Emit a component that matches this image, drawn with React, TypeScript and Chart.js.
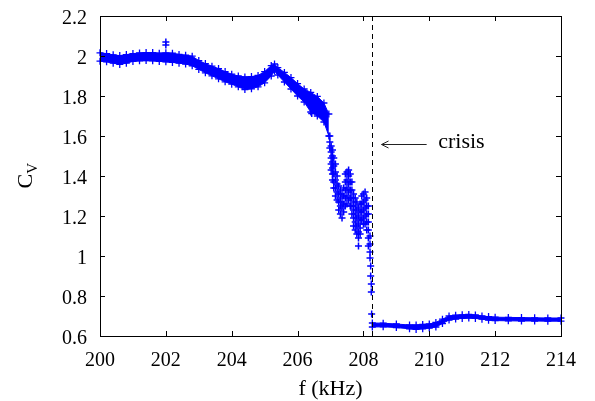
import React, { useEffect, useRef } from 'react';
import { Chart, registerables } from 'chart.js';

Chart.register(...registerables);

// Frequency samples (kHz) before the crisis and measured C_V band (upper / lower edge)
const freqsPre = [
  200.0, 200.2, 200.4, 200.6, 200.8, 201.0, 201.2, 201.4, 201.6, 201.8,
  202.0, 202.2, 202.4, 202.6, 202.8, 203.0, 203.2, 203.4, 203.6, 203.8,
  204.0, 204.2, 204.4, 204.6, 204.8, 205.0, 205.2, 205.3, 205.4, 205.6,
  205.8, 206.0, 206.2, 206.4, 206.6, 206.8, 206.95,
];
const cvHighPre = [
  2.016, 2.012, 2.006, 2.002, 2.007, 2.012, 2.015, 2.017, 2.017, 2.014,
  2.016, 2.014, 2.008, 2.004, 1.999, 1.977, 1.962, 1.949, 1.937, 1.922,
  1.909, 1.9, 1.895, 1.897, 1.903, 1.922, 1.952, 1.96, 1.942, 1.918,
  1.892, 1.862, 1.835, 1.818, 1.798, 1.765, 1.71,
];
const cvLowPre = [
  1.974, 1.971, 1.964, 1.958, 1.964, 1.973, 1.976, 1.977, 1.976, 1.973,
  1.971, 1.968, 1.964, 1.96, 1.951, 1.933, 1.916, 1.901, 1.886, 1.871,
  1.859, 1.846, 1.832, 1.836, 1.846, 1.866, 1.9, 1.925, 1.905, 1.87,
  1.835, 1.8, 1.77, 1.72, 1.7, 1.67, 1.6,
];

// After the crisis
const freqsPost = [
  208.27, 208.6, 209.0, 209.4, 209.6, 209.8, 210.0, 210.2, 210.4, 210.6,
  210.8, 211.0, 211.2, 211.4, 211.6, 211.8, 212.0, 212.4, 212.8, 213.2,
  213.6, 214.0, 214.05,
];
const cvHighPost = [
  0.665, 0.664, 0.66, 0.655, 0.655, 0.658, 0.66, 0.668, 0.684, 0.7,
  0.704, 0.706, 0.708, 0.705, 0.7, 0.697, 0.694, 0.693, 0.692, 0.691,
  0.69, 0.69, 0.69,
];
const cvLowPost = [
  0.645, 0.646, 0.642, 0.636, 0.633, 0.636, 0.64, 0.645, 0.662, 0.68,
  0.685, 0.688, 0.69, 0.688, 0.684, 0.679, 0.677, 0.676, 0.675, 0.675,
  0.674, 0.674, 0.674,
];

// Isolated points outside the band
const outlierPoints: [number, number][] = [
  [202.0, 2.07], [202.0, 2.055], [206.43, 1.713],
];

// Scattered measurements in the crisis region: [f, C_V]
const crisisPoints: [number, number][] = [
  [206.98, 1.6], [206.98, 1.57], [206.98, 1.54],
  [207.02, 1.55], [207.02, 1.52], [207.02, 1.49], [207.02, 1.46], [207.02, 1.43],
  [207.06, 1.53], [207.06, 1.5], [207.06, 1.47], [207.06, 1.44], [207.06, 1.41], [207.06, 1.38],
  [207.1, 1.49], [207.1, 1.45], [207.1, 1.41], [207.1, 1.37], [207.1, 1.34],
  [207.15, 1.46], [207.15, 1.42], [207.15, 1.38], [207.15, 1.34], [207.15, 1.3],
  [207.2, 1.4], [207.2, 1.36], [207.2, 1.32], [207.2, 1.28],
  [207.25, 1.35], [207.25, 1.31], [207.25, 1.27], [207.25, 1.23],
  [207.3, 1.33], [207.3, 1.29], [207.3, 1.25], [207.3, 1.21],
  [207.35, 1.31], [207.35, 1.27], [207.35, 1.24], [207.35, 1.19],
  [207.4, 1.34], [207.4, 1.3], [207.4, 1.26], [207.4, 1.22],
  [207.45, 1.41], [207.45, 1.37], [207.45, 1.33], [207.45, 1.29], [207.45, 1.25],
  [207.5, 1.42], [207.5, 1.38], [207.5, 1.34], [207.5, 1.3], [207.5, 1.26],
  [207.55, 1.43], [207.55, 1.4], [207.55, 1.36], [207.55, 1.32], [207.55, 1.28],
  [207.6, 1.41], [207.6, 1.37], [207.6, 1.33], [207.6, 1.29], [207.6, 1.25],
  [207.65, 1.37], [207.65, 1.33], [207.65, 1.29], [207.65, 1.25], [207.65, 1.21],
  [207.7, 1.31], [207.7, 1.27], [207.7, 1.23], [207.7, 1.19], [207.7, 1.15],
  [207.75, 1.29], [207.75, 1.25], [207.75, 1.21], [207.75, 1.17], [207.75, 1.13],
  [207.8, 1.27], [207.8, 1.23], [207.8, 1.19], [207.8, 1.15], [207.8, 1.11],
  [207.85, 1.24], [207.85, 1.2], [207.85, 1.16], [207.85, 1.12], [207.85, 1.09], [207.85, 1.05],
  [207.9, 1.26], [207.9, 1.22], [207.9, 1.18], [207.9, 1.14], [207.9, 1.11],
  [207.95, 1.3], [207.95, 1.26], [207.95, 1.22], [207.95, 1.18],
  [208.0, 1.31], [208.0, 1.27], [208.0, 1.23], [208.0, 1.19], [208.0, 1.16],
  [208.05, 1.32], [208.05, 1.28], [208.05, 1.24], [208.05, 1.2], [208.05, 1.16],
  [208.1, 1.29], [208.1, 1.25], [208.1, 1.21], [208.1, 1.17], [208.1, 1.13],
  [208.15, 1.25], [208.15, 1.21], [208.15, 1.17], [208.15, 1.13], [208.15, 1.09], [208.15, 1.05],
  [208.2, 1.1], [208.2, 1.06], [208.2, 1.02], [208.2, 0.99],
  [208.22, 0.95], [208.22, 0.9], [208.24, 0.86], [208.24, 0.82], [208.25, 0.71],
];

const xTicks = [200, 202, 204, 206, 208, 210, 212, 214];
const yTicks = [0.6, 0.8, 1.0, 1.2, 1.4, 1.6, 1.8, 2.0, 2.2];
const crisisF = 208.25;
const arrowTail = { f: 209.92, cv: 1.56 };
const arrowHead = { f: 208.55, cv: 1.56 };
const crisisLabel = { f: 210.27, cv: 1.5385, text: 'crisis' };

const BLUE = '#0000ff';
const FONT = 'Liberation Serif, serif';

export default function App() {
  const ref = useRef<HTMLCanvasElement>(null);

  useEffect(() => {
    const canvas = ref.current!;
    const pts = (xs: number[], ys: number[]) => xs.map((x, i) => ({ x, y: ys[i] }));
    const pairs = (p: [number, number][]) => p.map(([x, y]) => ({ x, y }));

    const bandStyle = {
      showLine: true,
      borderColor: BLUE,
      borderWidth: 1,
      pointStyle: 'cross' as const,
      pointRadius: 3.5,
      pointBorderColor: BLUE,
      pointBorderWidth: 1.3,
      pointBackgroundColor: BLUE,
      clip: false as const,
    };
    const scatterStyle = {
      showLine: false,
      pointStyle: 'cross' as const,
      pointRadius: 3.5,
      pointBorderColor: BLUE,
      pointBorderWidth: 1.5,
      clip: false as const,
    };

    const overlay = {
      id: 'overlay',
      afterDatasetsDraw(chart: any) {
        const c = chart.ctx as CanvasRenderingContext2D;
        const { left, right, top, bottom } = chart.chartArea;
        const xs = chart.scales.x;
        const ys = chart.scales.y;
        c.save();
        c.strokeStyle = '#000';
        c.lineWidth = 1;
        c.strokeRect(left + 0.5, top + 0.5, right - left, bottom - top);
        const tl = 5;
        c.beginPath();
        xTicks.forEach((v) => {
          const px = Math.round(xs.getPixelForValue(v)) + 0.5;
          c.moveTo(px, bottom);
          c.lineTo(px, bottom - tl);
          c.moveTo(px, top);
          c.lineTo(px, top + tl);
        });
        yTicks.forEach((v) => {
          const py = Math.round(ys.getPixelForValue(v)) + 0.5;
          c.moveTo(left, py);
          c.lineTo(left + tl, py);
          c.moveTo(right, py);
          c.lineTo(right - tl, py);
        });
        c.stroke();
        const dx = Math.round(xs.getPixelForValue(crisisF)) + 0.5;
        c.setLineDash([5, 4]);
        c.beginPath();
        c.moveTo(dx, top);
        c.lineTo(dx, bottom);
        c.stroke();
        c.setLineDash([]);
        const ax0 = xs.getPixelForValue(arrowTail.f);
        const ay0 = Math.round(ys.getPixelForValue(arrowTail.cv)) + 0.5;
        const ax1 = xs.getPixelForValue(arrowHead.f);
        c.strokeStyle = '#222';
        c.beginPath();
        c.moveTo(ax0, ay0);
        c.lineTo(ax1, ay0);
        c.moveTo(ax1 + 7, ay0 - 3.5);
        c.lineTo(ax1, ay0);
        c.lineTo(ax1 + 7, ay0 + 3.5);
        c.stroke();
        c.fillStyle = '#000';
        c.font = `22px ${FONT}`;
        c.textAlign = 'left';
        c.textBaseline = 'alphabetic';
        c.fillText(crisisLabel.text, xs.getPixelForValue(crisisLabel.f), ys.getPixelForValue(crisisLabel.cv));
        c.textAlign = 'center';
        c.fillText('f (kHz)', (left + right) / 2, 395);
        c.translate(31.5, 188.5);
        c.rotate(-Math.PI / 2);
        c.textAlign = 'left';
        c.font = `22px ${FONT}`;
        c.fillText('C', 0, 0);
        const w = c.measureText('C').width;
        c.font = `15px ${FONT}`;
        c.fillText('V', w, 5);
        c.restore();
      },
    };

    const chart = new Chart(canvas, {
      type: 'scatter',
      data: {
        datasets: [
          { ...bandStyle, data: pts(freqsPre, cvHighPre), fill: false },
          { ...bandStyle, data: pts(freqsPre, cvLowPre), fill: '-1', backgroundColor: BLUE },
          { ...bandStyle, data: pts(freqsPost, cvHighPost), fill: false },
          { ...bandStyle, data: pts(freqsPost, cvLowPost), fill: '-1', backgroundColor: BLUE },
          { ...scatterStyle, data: pairs(outlierPoints) } as any,
          { ...scatterStyle, data: pairs(crisisPoints) } as any,
        ],
      },
      options: {
        responsive: false,
        animation: false,
        devicePixelRatio: 1,
        layout: { padding: { left: 0, right: 34, top: 16, bottom: 0 } },
        plugins: { legend: { display: false }, tooltip: { enabled: false } },
        scales: {
          x: {
            type: 'linear',
            min: 200,
            max: 214,
            afterBuildTicks: (s: any) => {
              s.ticks = xTicks.map((v) => ({ value: v }));
            },
            ticks: {
              color: '#000',
              font: { family: FONT, size: 20 },
              padding: 13,
              maxRotation: 0,
              autoSkip: false,
              callback: (v: any) => String(v),
            },
            grid: { display: false, drawTicks: false },
            border: { display: false },
            afterFit: (s: any) => {
              s.height = 65;
              s.paddingLeft = 0;
              s.paddingRight = 0;
            },
          },
          y: {
            type: 'linear',
            min: 0.6,
            max: 2.2,
            afterBuildTicks: (s: any) => {
              s.ticks = yTicks.map((v) => ({ value: v }));
            },
            ticks: {
              color: '#000',
              font: { family: FONT, size: 20 },
              padding: 13,
              labelOffset: 3,
              autoSkip: false,
              callback: (v: any) => String(Math.round(Number(v) * 10) / 10),
            },
            grid: { display: false, drawTicks: false },
            border: { display: false },
            afterFit: (s: any) => {
              s.width = 100;
              s.paddingTop = 0;
              s.paddingBottom = 0;
            },
          },
        },
      },
      plugins: [overlay],
    });
    return () => chart.destroy();
  }, []);

  return (
    <div style={{ position: 'fixed', left: 0, top: 0, width: 595, height: 401, background: '#fff' }}>
      <canvas ref={ref} width={595} height={401} style={{ display: 'block' }} />
    </div>
  );
}
